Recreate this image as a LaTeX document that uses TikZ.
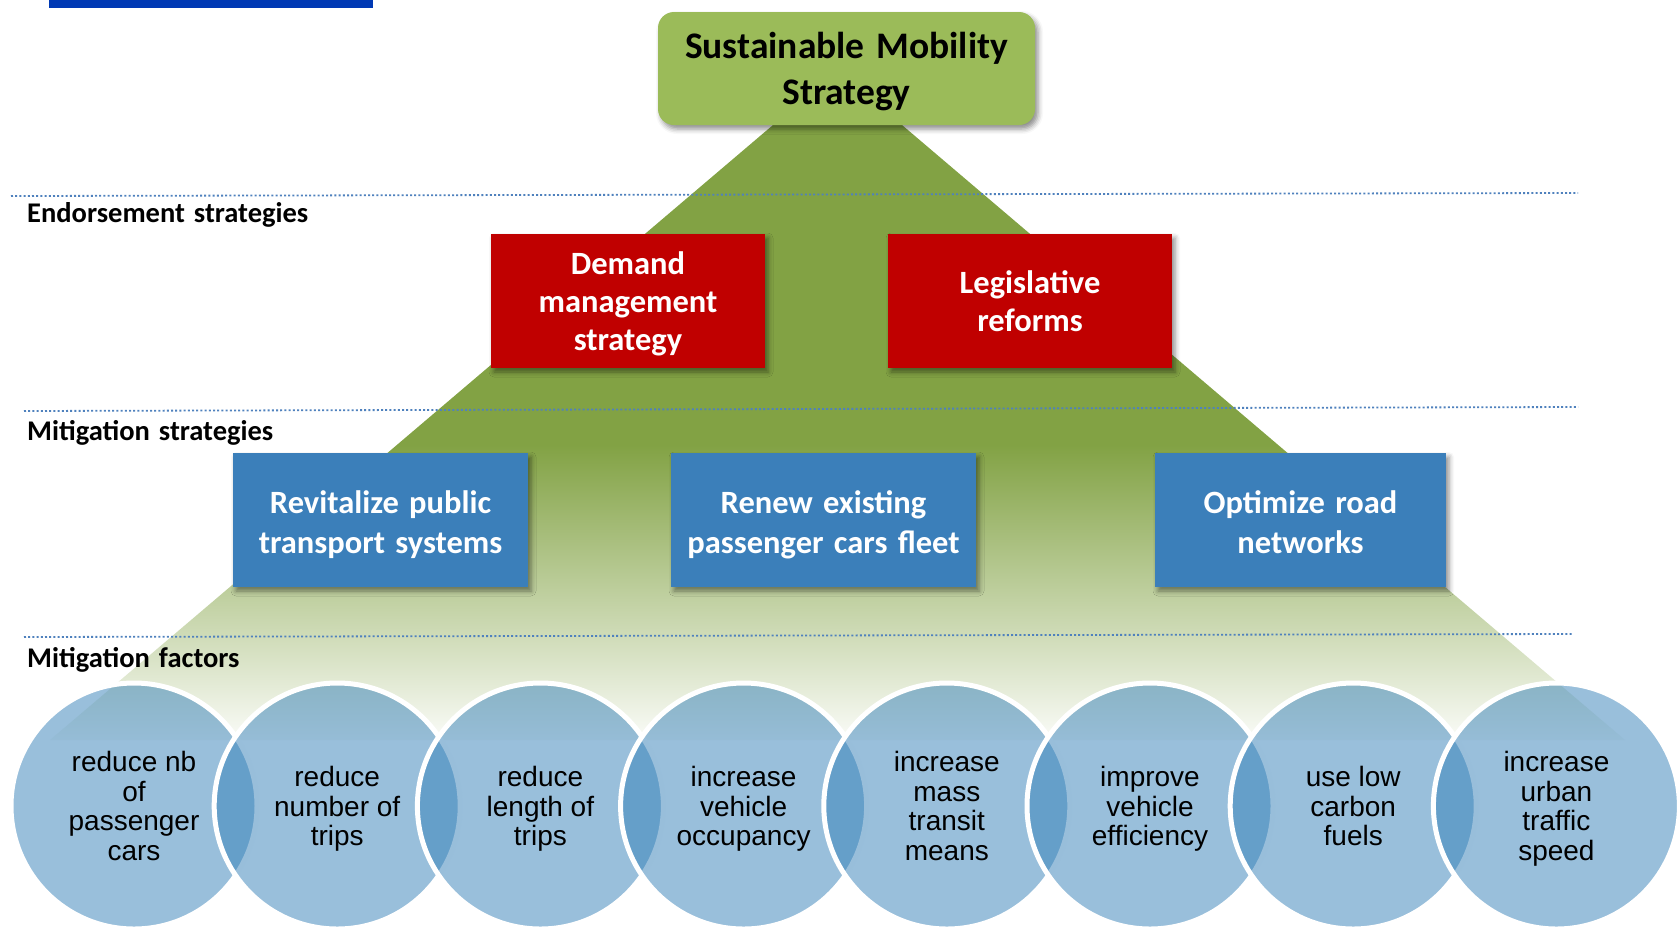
\documentclass[tikz,border=0pt]{standalone}
\usepackage{fontspec}
\setmainfont{Carlito}[WordSpace=1.4]
\newfontfamily\circfont{Liberation Sans}
\usepackage{tikz}
\usetikzlibrary{shadows.blur}

\definecolor{topgreen}{RGB}{155,187,89}
\definecolor{trigreen}{RGB}{130,162,68}
\definecolor{boxred}{RGB}{192,0,0}
\definecolor{boxblue}{RGB}{59,127,186}
\definecolor{circblue}{RGB}{51,127,183}
\definecolor{dotblue}{RGB}{79,129,189}
\definecolor{barblue}{RGB}{0,57,180}

\pgfdeclareverticalshading{pyramidfade}{100bp}{color(0bp)=(white); color(25bp)=(white!96!trigreen); color(49bp)=(trigreen); color(100bp)=(trigreen)}

\tikzset{
  boxshadow/.style={blur shadow={shadow xshift=3pt, shadow yshift=-4pt, shadow blur radius=5pt, shadow opacity=45}},
  topbox/.style={rectangle, rounded corners=16pt, fill=topgreen, boxshadow, align=center,
    minimum width=377, minimum height=113, inner sep=0pt, text depth=0pt,
    font=\bfseries\fontsize{37.5}{46}\selectfont},
  redbox/.style={rectangle, fill=boxred, boxshadow, text=white, align=center,
    minimum height=134, inner sep=0pt, text depth=0pt,
    font=\bfseries\fontsize{32.5}{38}\selectfont},
  bluebox/.style={rectangle, fill=boxblue, boxshadow, text=white, align=center,
    minimum height=134, inner sep=0pt, text height=66.3pt, text depth=0pt,
    font=\bfseries\fontsize{32.5}{39.6}\selectfont},
  factor/.style={circle, minimum size=246, inner sep=0pt, fill=circblue, fill opacity=0.5,
    text opacity=1, draw=white, draw opacity=1, line width=5pt, align=center,
    text depth=0pt, font=\circfont\fontsize{28}{29.5}\selectfont},
  lvllabel/.style={anchor=base west, inner sep=0pt, font=\bfseries\fontsize{28.5}{32}\selectfont},
  levelline/.style={dotblue, line width=1.8pt, dash pattern=on 2pt off 2.2pt}
}

\begin{document}
\begin{tikzpicture}[x=1pt, y=-1pt]
\useasboundingbox (0,0) rectangle (1677,930);

% Header bar
\fill[barblue] (49,0) rectangle (373,7.5);

% Pyramid behind the levels
\shade[shading=pyramidfade] (773,125) -- (902,125) -- (1625,740) -- (50,740) -- cycle;

% Level separators
\draw[levelline] (11,196) -- (1578,193);
\draw[levelline] (24,411) -- (1578,407);
\draw[levelline] (24,637) -- (1572,634);

% Level labels
\node[lvllabel] (endlbl) at (27,222) {Endorsement strategies};
\node[lvllabel] (mslbl) at (27,440) {Mitigation strategies};
\node[lvllabel] (mflbl) at (27,667) {Mitigation factors};

% Top
\node[topbox] (sms) at (846.5,68.5) {Sustainable Mobility\\Strategy};

% Endorsement strategies
\node[redbox, minimum width=274] (dms) at (628,301) {Demand\\management\\strategy};
\node[redbox, minimum width=284] (lref) at (1030,301) {Legislative\\reforms};

% Mitigation strategies
\node[bluebox, minimum width=295] (rpts) at (380.5,520) {Revitalize public\\transport systems};
\node[bluebox, minimum width=305] (repc) at (823.5,520) {Renew existing\\passenger cars fleet};
\node[bluebox, minimum width=291] (ornw) at (1300.5,520) {Optimize road\\networks};

% Mitigation factors
\foreach \i/\txt in {1/{reduce nb\\of\\passenger\\cars}, 2/{reduce\\number of\\trips},
    3/{reduce\\length of\\trips}, 4/{increase\\vehicle\\occupancy},
    5/{increase\\mass\\transit\\means}, 6/{improve\\vehicle\\efficiency},
    7/{use low\\carbon\\fuels}, 8/{increase\\urban\\traffic\\speed}}
  \node[factor] (f\i) at ({134+203.2*(\i-1)},806) {\txt};
\end{tikzpicture}
\end{document}
